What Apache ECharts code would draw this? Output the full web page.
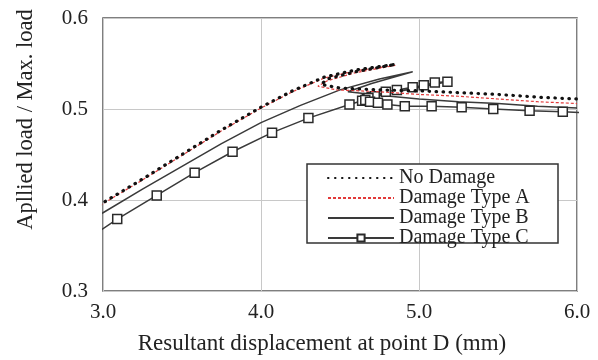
<!DOCTYPE html>
<html>
<head>
<meta charset="utf-8">
<script src="https://cdn.jsdelivr.net/npm/echarts@6/dist/echarts.min.js"></script>
<style>
  html, body { margin: 0; padding: 0; background: #fff; }
  #chart { width: 598px; height: 360px; }
</style>
</head>
<body>
<div id="chart"></div>
<script>
// Load-displacement paths: [displacement (mm), applied load / max load]
const noDamage = [
  [2.9, 0.386], [3.0, 0.397], [3.25, 0.423], [3.5, 0.450], [3.75, 0.477], [4.0, 0.502],
  [4.2, 0.520], [4.4, 0.535], [4.6, 0.543], [4.85, 0.549],
  [4.6, 0.541], [4.42, 0.533], [4.38, 0.527], [4.5, 0.523],
  [4.75, 0.521], [5.0, 0.520], [5.25, 0.518], [5.5, 0.516], [5.75, 0.513], [6.0, 0.511]
];
const damageA = [
  [2.9, 0.385], [3.0, 0.396], [3.25, 0.422], [3.5, 0.449], [3.75, 0.476], [4.0, 0.501],
  [4.2, 0.519], [4.4, 0.534], [4.6, 0.542], [4.85, 0.548],
  [4.6, 0.540], [4.42, 0.531], [4.36, 0.525], [4.48, 0.521],
  [4.75, 0.519], [5.0, 0.516], [5.25, 0.514], [5.5, 0.511], [5.75, 0.508], [6.0, 0.506]
];
const damageB = [
  [2.9, 0.375], [3.0, 0.386], [3.25, 0.412], [3.5, 0.437], [3.75, 0.462], [4.0, 0.485],
  [4.25, 0.504], [4.5, 0.521], [4.75, 0.533], [4.96, 0.541],
  [4.7, 0.528], [4.55, 0.519], [4.75, 0.515], [5.0, 0.511],
  [5.25, 0.508], [5.5, 0.506], [5.75, 0.503], [6.0, 0.501]
];
const damageC = [
  [2.86, 0.352], [3.09, 0.379], [3.34, 0.405], [3.58, 0.430], [3.82, 0.453],
  [4.07, 0.474], [4.30, 0.490], [4.56, 0.505], [4.64, 0.509], [4.67, 0.511], [4.70, 0.513],
  [4.79, 0.519], [4.86, 0.521], [4.96, 0.524], [5.03, 0.526], [5.10, 0.529], [5.18, 0.530],
  [4.72, 0.514], [4.68, 0.512], [4.66, 0.510], [4.69, 0.508], [4.74, 0.507], [4.80, 0.505],
  [4.91, 0.503], [5.08, 0.503], [5.27, 0.502], [5.47, 0.500], [5.70, 0.498], [5.91, 0.497],
  [6.14, 0.495]
];
const seriesNames = ['No Damage', 'Damage Type A', 'Damage Type B', 'Damage Type C'];
const xTicks = [3.0, 4.0, 5.0, 6.0];
const yTicks = [0.3, 0.4, 0.5, 0.6];

const serif = 'Liberation Serif';
const chart = echarts.init(document.getElementById('chart'));

// Line-only legend entries hide the default marker
const plainKey = name => ({ name, itemStyle: { opacity: 0 } });

chart.setOption({
  animation: false,
  backgroundColor: '#fff',
  grid: {
    left: 103, right: 21, top: 18, bottom: 69,
    show: true, borderColor: '#555', borderWidth: 1.5
  },
  xAxis: {
    type: 'value',
    min: xTicks[0], max: xTicks[xTicks.length - 1], interval: 1,
    name: 'Resultant displacement at point D (mm)',
    nameLocation: 'middle', nameGap: 41,
    nameTextStyle: { fontFamily: serif, fontSize: 23, color: '#222', padding: [0, 36, 0, 0] },
    axisLine: { show: false },
    axisTick: { show: false },
    axisLabel: {
      fontFamily: serif, fontSize: 21, color: '#222', margin: 11,
      formatter: v => v.toFixed(1)
    },
    splitLine: { show: true, lineStyle: { color: '#c8c8c8', width: 1 } }
  },
  yAxis: {
    type: 'value',
    min: yTicks[0], max: yTicks[yTicks.length - 1], interval: 0.1,
    name: 'Apllied load / Max. load',
    nameLocation: 'middle', nameGap: 65,
    nameTextStyle: { fontFamily: serif, fontSize: 22.5, color: '#222', padding: [0, 0, 0, 70] },
    axisLine: { show: false },
    axisTick: { show: false },
    axisLabel: {
      fontFamily: serif, fontSize: 21, color: '#222', margin: 15,
      formatter: v => v.toFixed(1)
    },
    splitLine: { show: true, lineStyle: { color: '#c8c8c8', width: 1 } }
  },
  // Legend frame
  graphic: [{
    type: 'rect', z: 3,
    shape: { x: 307, y: 164, width: 251, height: 79 },
    style: { fill: '#fff', stroke: '#333', lineWidth: 1.5 }
  }],
  legend: {
    orient: 'vertical',
    left: 307, top: 168, z: 5,
    padding: [0, 19, 0, 20],
    itemWidth: 66, itemHeight: 9, itemGap: 0,
    textStyle: { fontFamily: serif, fontSize: 20, color: '#222' },
    data: [plainKey(seriesNames[0]), plainKey(seriesNames[1]), plainKey(seriesNames[2]), seriesNames[3]]
  },
  series: [
    {
      name: seriesNames[0], type: 'line', data: noDamage, symbol: 'none', z: 4,
      lineStyle: { color: '#111', width: 3.2, type: [0.5, 6.5], cap: 'round' },
      itemStyle: { color: '#111' }
    },
    {
      name: seriesNames[1], type: 'line', data: damageA, symbol: 'none', z: 3,
      lineStyle: { color: '#e23a3a', width: 1.2, type: [3, 2] },
      itemStyle: { color: '#e23a3a' }
    },
    {
      name: seriesNames[2], type: 'line', data: damageB, symbol: 'none', z: 2,
      lineStyle: { color: '#3a3a3a', width: 1.5 },
      itemStyle: { color: '#3a3a3a' }
    },
    {
      name: seriesNames[3], type: 'line', data: damageC, z: 2,
      symbol: 'rect', symbolSize: 9, showAllSymbol: true,
      lineStyle: { color: '#3a3a3a', width: 1.5 },
      itemStyle: { color: '#fff', borderColor: '#2a2a2a', borderWidth: 1.5 }
    }
  ]
});
</script>
</body>
</html>
